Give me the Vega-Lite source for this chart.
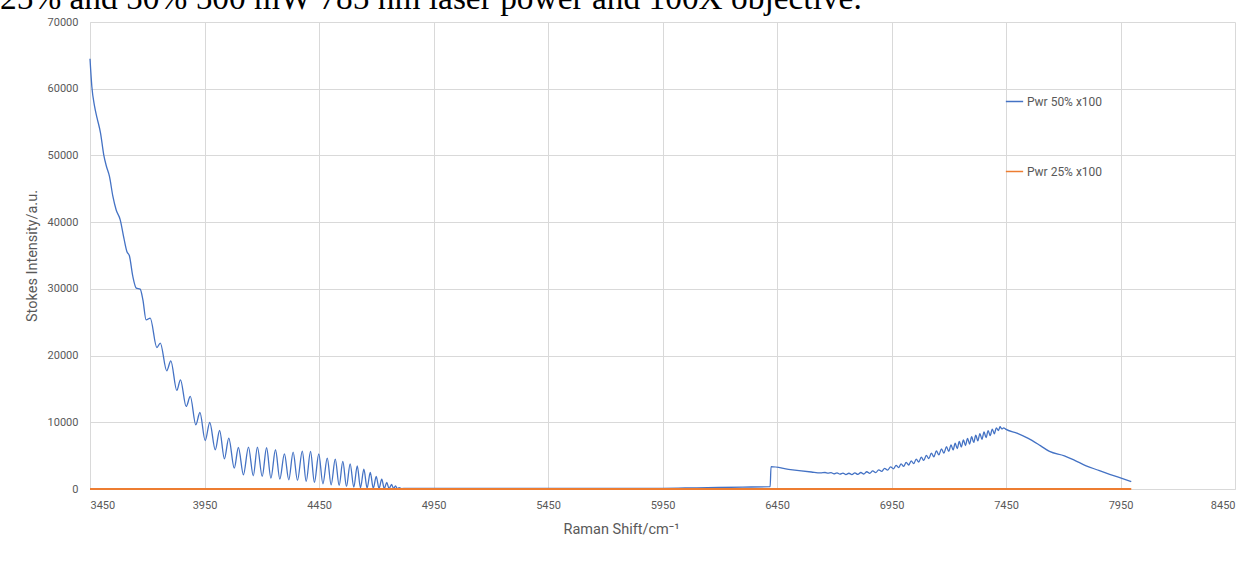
{
  "$schema": "https://vega.github.io/schema/vega-lite/v6.json",
  "autosize": "none",
  "width": 1145,
  "height": 467,
  "padding": {"left": 90, "top": 22, "right": 13, "bottom": 80},
  "background": "white",
  "title": {
    "text": "25% and 50% 500 mW 785 nm laser power and 100X objective.",
    "anchor": "start",
    "frame": "group",
    "font": "Liberation Serif",
    "fontSize": 33.4,
    "fontWeight": "normal",
    "color": "#000000",
    "dx": -90,
    "baseline": "alphabetic",
    "offset": -26
  },
  "config": {
    "view": {"stroke": null},
    "axis": {
      "labelFont": "Roboto",
      "titleFont": "Roboto",
      "labelColor": "#595959",
      "titleColor": "#595959",
      "labelFontSize": 11,
      "titleFontSize": 14.5,
      "titleFontWeight": "normal",
      "gridColor": "#d9d9d9",
      "gridWidth": 1,
      "domainColor": "#d9d9d9",
      "domainWidth": 1,
      "ticks": false
    },
    "legend": {
      "labelFont": "Roboto",
      "labelFontSize": 12,
      "labelColor": "#595959"
    }
  },
  "data": {
    "values": [
      {"s": "Pwr 50% x100", "x": 3450, "y": 64500},
      {"s": "Pwr 50% x100", "x": 3458, "y": 60340},
      {"s": "Pwr 50% x100", "x": 3470, "y": 57340},
      {"s": "Pwr 50% x100", "x": 3481, "y": 55600},
      {"s": "Pwr 50% x100", "x": 3496, "y": 53350},
      {"s": "Pwr 50% x100", "x": 3510, "y": 50100},
      {"s": "Pwr 50% x100", "x": 3521, "y": 48450},
      {"s": "Pwr 50% x100", "x": 3535, "y": 46850},
      {"s": "Pwr 50% x100", "x": 3550, "y": 43850},
      {"s": "Pwr 50% x100", "x": 3564, "y": 41850},
      {"s": "Pwr 50% x100", "x": 3582, "y": 40350},
      {"s": "Pwr 50% x100", "x": 3598, "y": 37600},
      {"s": "Pwr 50% x100", "x": 3611, "y": 35600},
      {"s": "Pwr 50% x100", "x": 3622, "y": 34960},
      {"s": "Pwr 50% x100", "x": 3637, "y": 31860},
      {"s": "Pwr 50% x100", "x": 3652, "y": 30110},
      {"s": "Pwr 50% x100", "x": 3669, "y": 29960},
      {"s": "Pwr 50% x100", "x": 3681, "y": 28360},
      {"s": "Pwr 50% x100", "x": 3695, "y": 25360},
      {"s": "Pwr 50% x100", "x": 3713, "y": 25620},
      {"s": "Pwr 50% x100", "x": 3742, "y": 21210},
      {"s": "Pwr 50% x100", "x": 3757, "y": 21870},
      {"s": "Pwr 50% x100", "x": 3785, "y": 17720},
      {"s": "Pwr 50% x100", "x": 3803, "y": 19220},
      {"s": "Pwr 50% x100", "x": 3829, "y": 14770},
      {"s": "Pwr 50% x100", "x": 3845, "y": 16370},
      {"s": "Pwr 50% x100", "x": 3870, "y": 12370},
      {"s": "Pwr 50% x100", "x": 3888, "y": 13870},
      {"s": "Pwr 50% x100", "x": 3912, "y": 9620},
      {"s": "Pwr 50% x100", "x": 3930, "y": 11470},
      {"s": "Pwr 50% x100", "x": 3953, "y": 7270},
      {"s": "Pwr 50% x100", "x": 3973, "y": 9970},
      {"s": "Pwr 50% x100", "x": 3997, "y": 5880},
      {"s": "Pwr 50% x100", "x": 4016, "y": 8770},
      {"s": "Pwr 50% x100", "x": 4037, "y": 4530},
      {"s": "Pwr 50% x100", "x": 4056, "y": 7630},
      {"s": "Pwr 50% x100", "x": 4080, "y": 3130},
      {"s": "Pwr 50% x100", "x": 4098, "y": 6220},
      {"s": "Pwr 50% x100", "x": 4120, "y": 2130},
      {"s": "Pwr 50% x100", "x": 4142, "y": 6280},
      {"s": "Pwr 50% x100", "x": 4163, "y": 1980},
      {"s": "Pwr 50% x100", "x": 4181, "y": 6280},
      {"s": "Pwr 50% x100", "x": 4202, "y": 1880},
      {"s": "Pwr 50% x100", "x": 4221, "y": 6180},
      {"s": "Pwr 50% x100", "x": 4240, "y": 1630},
      {"s": "Pwr 50% x100", "x": 4260, "y": 5880},
      {"s": "Pwr 50% x100", "x": 4279, "y": 1480},
      {"s": "Pwr 50% x100", "x": 4299, "y": 5280},
      {"s": "Pwr 50% x100", "x": 4318, "y": 1380},
      {"s": "Pwr 50% x100", "x": 4337, "y": 5530},
      {"s": "Pwr 50% x100", "x": 4356, "y": 1280},
      {"s": "Pwr 50% x100", "x": 4377, "y": 5680},
      {"s": "Pwr 50% x100", "x": 4394, "y": 1130},
      {"s": "Pwr 50% x100", "x": 4413, "y": 5630},
      {"s": "Pwr 50% x100", "x": 4430, "y": 980},
      {"s": "Pwr 50% x100", "x": 4449, "y": 5280},
      {"s": "Pwr 50% x100", "x": 4467, "y": 780},
      {"s": "Pwr 50% x100", "x": 4486, "y": 4630},
      {"s": "Pwr 50% x100", "x": 4503, "y": 630},
      {"s": "Pwr 50% x100", "x": 4521, "y": 4480},
      {"s": "Pwr 50% x100", "x": 4538, "y": 530},
      {"s": "Pwr 50% x100", "x": 4554, "y": 4130},
      {"s": "Pwr 50% x100", "x": 4570, "y": 380},
      {"s": "Pwr 50% x100", "x": 4586, "y": 3780},
      {"s": "Pwr 50% x100", "x": 4602, "y": 280},
      {"s": "Pwr 50% x100", "x": 4617, "y": 3480},
      {"s": "Pwr 50% x100", "x": 4631, "y": 180},
      {"s": "Pwr 50% x100", "x": 4646, "y": 2980},
      {"s": "Pwr 50% x100", "x": 4660, "y": 150},
      {"s": "Pwr 50% x100", "x": 4674, "y": 2480},
      {"s": "Pwr 50% x100", "x": 4687, "y": 100},
      {"s": "Pwr 50% x100", "x": 4700, "y": 1880},
      {"s": "Pwr 50% x100", "x": 4712, "y": 80},
      {"s": "Pwr 50% x100", "x": 4724, "y": 1480},
      {"s": "Pwr 50% x100", "x": 4735, "y": 60},
      {"s": "Pwr 50% x100", "x": 4746, "y": 980},
      {"s": "Pwr 50% x100", "x": 4756, "y": 50},
      {"s": "Pwr 50% x100", "x": 4767, "y": 680},
      {"s": "Pwr 50% x100", "x": 4776, "y": 40},
      {"s": "Pwr 50% x100", "x": 4784, "y": 480},
      {"s": "Pwr 50% x100", "x": 4792, "y": 40},
      {"s": "Pwr 50% x100", "x": 4800, "y": 200},
      {"s": "Pwr 50% x100", "x": 4810, "y": 60},
      {"s": "Pwr 50% x100", "x": 4830, "y": 100},
      {"s": "Pwr 50% x100", "x": 5950, "y": 100},
      {"s": "Pwr 50% x100", "x": 6100, "y": 180},
      {"s": "Pwr 50% x100", "x": 6300, "y": 280},
      {"s": "Pwr 50% x100", "x": 6420, "y": 350},
      {"s": "Pwr 50% x100", "x": 6424, "y": 3350},
      {"s": "Pwr 50% x100", "x": 6500, "y": 2950},
      {"s": "Pwr 50% x100", "x": 6600, "y": 2550},
      {"s": "Pwr 50% x100", "x": 6640, "y": 2420},
      {"s": "Pwr 50% x100", "x": 6660, "y": 2475},
      {"s": "Pwr 50% x100", "x": 6673, "y": 2377},
      {"s": "Pwr 50% x100", "x": 6686, "y": 2450},
      {"s": "Pwr 50% x100", "x": 6699, "y": 2277},
      {"s": "Pwr 50% x100", "x": 6712, "y": 2411},
      {"s": "Pwr 50% x100", "x": 6725, "y": 2220},
      {"s": "Pwr 50% x100", "x": 6738, "y": 2381},
      {"s": "Pwr 50% x100", "x": 6751, "y": 2164},
      {"s": "Pwr 50% x100", "x": 6764, "y": 2364},
      {"s": "Pwr 50% x100", "x": 6777, "y": 2164},
      {"s": "Pwr 50% x100", "x": 6790, "y": 2420},
      {"s": "Pwr 50% x100", "x": 6803, "y": 2194},
      {"s": "Pwr 50% x100", "x": 6816, "y": 2476},
      {"s": "Pwr 50% x100", "x": 6829, "y": 2248},
      {"s": "Pwr 50% x100", "x": 6842, "y": 2588},
      {"s": "Pwr 50% x100", "x": 6855, "y": 2343},
      {"s": "Pwr 50% x100", "x": 6868, "y": 2709},
      {"s": "Pwr 50% x100", "x": 6881, "y": 2442},
      {"s": "Pwr 50% x100", "x": 6894, "y": 2878},
      {"s": "Pwr 50% x100", "x": 6907, "y": 2633},
      {"s": "Pwr 50% x100", "x": 6920, "y": 3099},
      {"s": "Pwr 50% x100", "x": 6933, "y": 2824},
      {"s": "Pwr 50% x100", "x": 6946, "y": 3316},
      {"s": "Pwr 50% x100", "x": 6959, "y": 3025},
      {"s": "Pwr 50% x100", "x": 6970, "y": 3545},
      {"s": "Pwr 50% x100", "x": 6981, "y": 3206},
      {"s": "Pwr 50% x100", "x": 6992, "y": 3760},
      {"s": "Pwr 50% x100", "x": 7003, "y": 3390},
      {"s": "Pwr 50% x100", "x": 7014, "y": 3988},
      {"s": "Pwr 50% x100", "x": 7025, "y": 3594},
      {"s": "Pwr 50% x100", "x": 7036, "y": 4225},
      {"s": "Pwr 50% x100", "x": 7047, "y": 3797},
      {"s": "Pwr 50% x100", "x": 7058, "y": 4479},
      {"s": "Pwr 50% x100", "x": 7069, "y": 4034},
      {"s": "Pwr 50% x100", "x": 7080, "y": 4765},
      {"s": "Pwr 50% x100", "x": 7091, "y": 4276},
      {"s": "Pwr 50% x100", "x": 7102, "y": 5055},
      {"s": "Pwr 50% x100", "x": 7113, "y": 4544},
      {"s": "Pwr 50% x100", "x": 7124, "y": 5385},
      {"s": "Pwr 50% x100", "x": 7135, "y": 4830},
      {"s": "Pwr 50% x100", "x": 7146, "y": 5715},
      {"s": "Pwr 50% x100", "x": 7157, "y": 5109},
      {"s": "Pwr 50% x100", "x": 7168, "y": 6027},
      {"s": "Pwr 50% x100", "x": 7179, "y": 5373},
      {"s": "Pwr 50% x100", "x": 7190, "y": 6335},
      {"s": "Pwr 50% x100", "x": 7200, "y": 5625},
      {"s": "Pwr 50% x100", "x": 7210, "y": 6615},
      {"s": "Pwr 50% x100", "x": 7219, "y": 5853},
      {"s": "Pwr 50% x100", "x": 7228, "y": 6867},
      {"s": "Pwr 50% x100", "x": 7237, "y": 6069},
      {"s": "Pwr 50% x100", "x": 7246, "y": 7119},
      {"s": "Pwr 50% x100", "x": 7255, "y": 6289},
      {"s": "Pwr 50% x100", "x": 7264, "y": 7360},
      {"s": "Pwr 50% x100", "x": 7273, "y": 6518},
      {"s": "Pwr 50% x100", "x": 7282, "y": 7599},
      {"s": "Pwr 50% x100", "x": 7291, "y": 6748},
      {"s": "Pwr 50% x100", "x": 7300, "y": 7837},
      {"s": "Pwr 50% x100", "x": 7309, "y": 6977},
      {"s": "Pwr 50% x100", "x": 7318, "y": 8076},
      {"s": "Pwr 50% x100", "x": 7327, "y": 7207},
      {"s": "Pwr 50% x100", "x": 7336, "y": 8314},
      {"s": "Pwr 50% x100", "x": 7345, "y": 7436},
      {"s": "Pwr 50% x100", "x": 7354, "y": 8548},
      {"s": "Pwr 50% x100", "x": 7363, "y": 7708},
      {"s": "Pwr 50% x100", "x": 7372, "y": 8764},
      {"s": "Pwr 50% x100", "x": 7381, "y": 7996},
      {"s": "Pwr 50% x100", "x": 7390, "y": 8980},
      {"s": "Pwr 50% x100", "x": 7399, "y": 8284},
      {"s": "Pwr 50% x100", "x": 7408, "y": 9177},
      {"s": "Pwr 50% x100", "x": 7417, "y": 8747},
      {"s": "Pwr 50% x100", "x": 7424, "y": 9332},
      {"s": "Pwr 50% x100", "x": 7432, "y": 9000},
      {"s": "Pwr 50% x100", "x": 7440, "y": 9150},
      {"s": "Pwr 50% x100", "x": 7448, "y": 8980},
      {"s": "Pwr 50% x100", "x": 7500, "y": 8350},
      {"s": "Pwr 50% x100", "x": 7545, "y": 7630},
      {"s": "Pwr 50% x100", "x": 7600, "y": 6500},
      {"s": "Pwr 50% x100", "x": 7640, "y": 5630},
      {"s": "Pwr 50% x100", "x": 7705, "y": 4980},
      {"s": "Pwr 50% x100", "x": 7750, "y": 4300},
      {"s": "Pwr 50% x100", "x": 7800, "y": 3480},
      {"s": "Pwr 50% x100", "x": 7850, "y": 2850},
      {"s": "Pwr 50% x100", "x": 7888, "y": 2380},
      {"s": "Pwr 50% x100", "x": 7953, "y": 1630},
      {"s": "Pwr 50% x100", "x": 7997, "y": 1100},
      {"s": "Pwr 25% x100", "x": 3450, "y": 0},
      {"s": "Pwr 25% x100", "x": 4800, "y": 0},
      {"s": "Pwr 25% x100", "x": 6424, "y": 0},
      {"s": "Pwr 25% x100", "x": 7997, "y": 0}
    ]
  },
  "encoding": {
    "x": {
      "field": "x",
      "type": "quantitative",
      "scale": {"domain": [3450, 8450], "nice": false, "zero": false},
      "axis": {
        "values": [3450, 3950, 4450, 4950, 5450, 5950, 6450, 6950, 7450, 7950, 8450],
        "format": "d",
        "title": "Raman Shift/cm⁻¹",
        "labelPadding": 10,
        "titlePadding": 12,
        "titleX": 531
      }
    },
    "y": {
      "field": "y",
      "type": "quantitative",
      "scale": {"domain": [0, 70000], "nice": false},
      "axis": {
        "values": [0, 10000, 20000, 30000, 40000, 50000, 60000, 70000],
        "format": "d",
        "title": "Stokes Intensity/a.u.",
        "labelPadding": 12,
        "titlePadding": 8
      }
    },
    "color": {
      "field": "s",
      "type": "nominal",
      "scale": {"domain": ["Pwr 50% x100", "Pwr 25% x100"], "range": ["#4472C4", "#ED7D31"]},
      "legend": {
        "title": null,
        "orient": "none",
        "legendX": 915,
        "legendY": 70,
        "symbolType": "stroke",
        "symbolSize": 300,
        "symbolStrokeWidth": 1.5,
        "rowPadding": 54,
        "labelOffset": 3
      }
    }
  },
  "layer": [
    {
      "transform": [{"filter": "datum.s === 'Pwr 50% x100'"}],
      "mark": {"type": "line", "strokeWidth": 1.3, "interpolate": "monotone"}
    },
    {
      "transform": [{"filter": "datum.s === 'Pwr 25% x100'"}],
      "mark": {"type": "line", "strokeWidth": 1.8}
    }
  ]
}
